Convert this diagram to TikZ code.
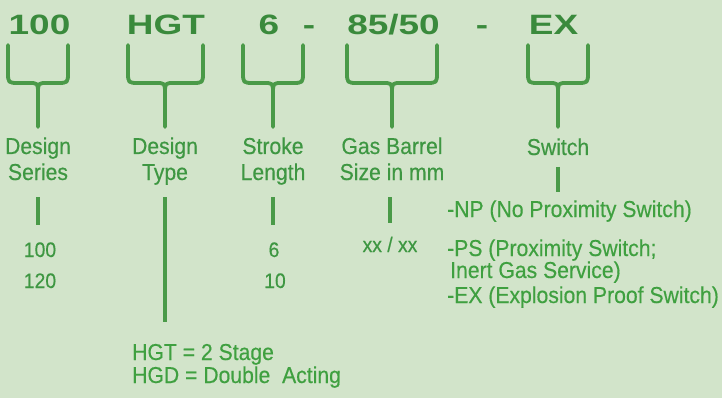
\documentclass[tikz,border=0pt]{standalone}
\usepackage{fontspec}
\setmainfont{Liberation Sans}
\newfontfamily\codefont[FakeStretch=1.32]{Liberation Sans}
\newfontfamily\lblfont[FakeStretch=0.92,FakeBold=0.4]{Liberation Sans}
\definecolor{bgc}{HTML}{D2E4CA}
\definecolor{codec}{HTML}{3A8A3C}
\definecolor{bracec}{HTML}{4A9A48}
\definecolor{txtc}{HTML}{3E9742}
\definecolor{optc}{HTML}{3FA040}
\tikzset{
  code/.style={inner sep=0pt, anchor=base, text=codec, font=\codefont\bfseries\fontsize{28}{28}\selectfont},
  lbl/.style={inner sep=0pt, anchor=base, text=txtc, font=\lblfont\fontsize{23}{23}\selectfont},
  val/.style={inner sep=0pt, anchor=base, text=txtc, font=\lblfont\fontsize{21}{21}\selectfont},
  opt/.style={inner sep=0pt, anchor=base west, text=optc, font=\lblfont\fontsize{23}{23}\selectfont},
  bracepath/.style={draw=bracec, line width=3.8pt, line cap=round, line join=round},
  bar/.style={draw=bracec, line width=3.6pt}
}
\newcommand\mybrace[3]{%
  \draw[bracepath] (#1,45) -- (#1,72) .. controls (#1,83) .. (#1+11,83) -- (#2-9,83) .. controls (#2,83) .. (#2,94) -- (#2,127);
  \draw[bracepath] (#3,45) -- (#3,72) .. controls (#3,83) .. (#3-11,83) -- (#2+9,83) .. controls (#2,83) .. (#2,94);}
\begin{document}
\begin{tikzpicture}[x=1pt,y=-1pt]
\fill[bgc] (0,0) rectangle (722,398);
\useasboundingbox (0,0) rectangle (722,398);
% codes
\node[code] (c1) at (39.5,35) {100};
\node[code] (c2) at (166,35) {HGT};
\node[code] (c3) at (269,35) {6};
\node[code] (d1) at (309,35) {-};
\node[code] (c4) at (393.5,35) {85/50};
\node[code] (d2) at (482,35) {-};
\node[code] (c5) at (553.5,35) {EX};
% braces
\mybrace{8}{38}{68}
\mybrace{128}{165}{203}
\mybrace{243}{273}{303}
\mybrace{347}{392}{437}
\mybrace{528}{558}{588}
% labels
\node[lbl] (l1a) at (38,154) {Design};
\node[lbl] (l1b) at (38,180) {Series};
\node[lbl] (l2a) at (165,154) {Design};
\node[lbl] (l2b) at (165,180) {Type};
\node[lbl] (l3a) at (273,154) {Stroke};
\node[lbl] (l3b) at (273,180) {Length};
\node[lbl] (l4a) at (392,154) {Gas Barrel};
\node[lbl] (l4b) at (392,180) {Size in mm};
\node[lbl] (l5a) at (558,155) {Switch};
% bars
\coordinate (b1t) at (38,197); \coordinate (b1b) at (38,225);
\coordinate (b2t) at (165,197); \coordinate (b2b) at (165,322);
\coordinate (b3t) at (273,197); \coordinate (b3b) at (273,225);
\coordinate (b4t) at (390,197); \coordinate (b4b) at (390,223);
\coordinate (b5t) at (558,167); \coordinate (b5b) at (558,192);
\draw[bar] (b1t) -- (b1b);
\draw[bar] (b2t) -- (b2b);
\draw[bar] (b3t) -- (b3b);
\draw[bar] (b4t) -- (b4b);
\draw[bar] (b5t) -- (b5b);
% values
\node[val] (v1a) at (40,257) {100};
\node[val] (v1b) at (40,288) {120};
\node[val] (v3a) at (274,257) {6};
\node[val] (v3b) at (275,288) {10};
\node[val] (v4) at (390,252) {xx / xx};
\node[opt] (o1) at (447,217) {-NP (No Proximity Switch)};
\node[opt] (o2) at (447,256) {-PS (Proximity Switch;};
\node[opt] (o3) at (450,278) {Inert Gas Service)};
\node[opt] (o4) at (447,303) {-EX (Explosion Proof Switch)};
\node[opt] (h1) at (132,360) {HGT = 2 Stage};
\node[opt] (h2) at (132,383) {HGD = Double\ \ Acting};
\end{tikzpicture}
\end{document}
